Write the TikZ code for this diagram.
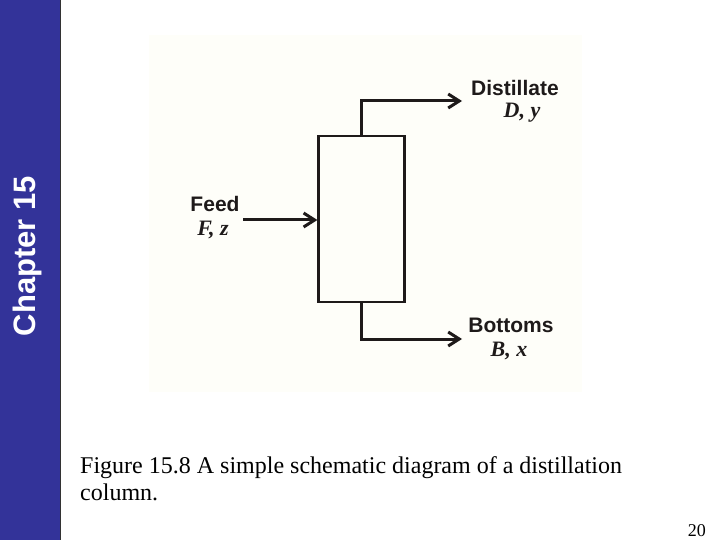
\documentclass[tikz,border=0pt]{standalone}
\usepackage{fontspec}
\newfontfamily\labelfont{Liberation Sans}
\newfontfamily\capfont{Liberation Serif}
\usetikzlibrary{arrows.meta}
\definecolor{barblue}{RGB}{51,51,153}
\definecolor{ink}{RGB}{30,26,26}
\definecolor{scanbg}{RGB}{254,254,249}

\begin{document}
\begin{tikzpicture}[x=1pt, y=-1pt, >={Straight Barb[length=11pt,width=14pt]},
    pipe/.style={draw=ink, line width=3pt},
    stream/.style={font=\labelfont\bfseries\fontsize{21}{21}\selectfont, text=ink, inner sep=0pt},
    symb/.style={font=\capfont\bfseries\itshape\fontsize{22}{22}\selectfont, text=ink, inner sep=0pt}]
    \useasboundingbox (0,0) rectangle (720,540);

    % side bar
    \fill[barblue] (0,0) rectangle (60,540);
    \draw[line width=1pt, black!80] (60,0) -- (60,540);
    \node[rotate=90, text=white, font=\labelfont\bfseries\fontsize{31}{31}\selectfont] (chap) at (27,256) {Chapter 15};

    % scanned figure
    \fill[scanbg] (149,35) rectangle (582,392);

    % column
    \node[draw=ink, line width=2.2pt, minimum width=86pt, minimum height=166pt, inner sep=0pt] (col) at (361.5,219) {};

    % streams
    \coordinate (dtip) at (462,101);
    \coordinate (btip) at (462,339);
    \coordinate (fin) at (243,220);
    \draw[pipe, ->] (col.north) |- (dtip);
    \draw[pipe, ->] (col.south) |- (btip);
    \draw[pipe, ->] (fin) -- (fin -| col.west);

    % labels
    \node[stream] (dist) at (515,88) {Distillate};
    \node[symb] (dy) at (522,113) {D, y};
    \node[stream] (feed) at (215,204) {Feed};
    \node[symb] (fz) at (213,230) {F, z};
    \node[stream] (bott) at (511,325) {Bottoms};
    \node[symb] (bx) at (509,351) {B, x};

    % caption
    \node[anchor=north west, inner sep=0pt, align=left, font=\capfont\fontsize{24}{27}\selectfont] (cap) at (80,456.5)
        {Figure 15.8 A simple schematic diagram of a distillation\\column.};
    \node[anchor=base east, inner sep=0pt, font=\capfont\fontsize{18}{18}\selectfont] (page) at (706,536) {20};
\end{tikzpicture}
\end{document}
